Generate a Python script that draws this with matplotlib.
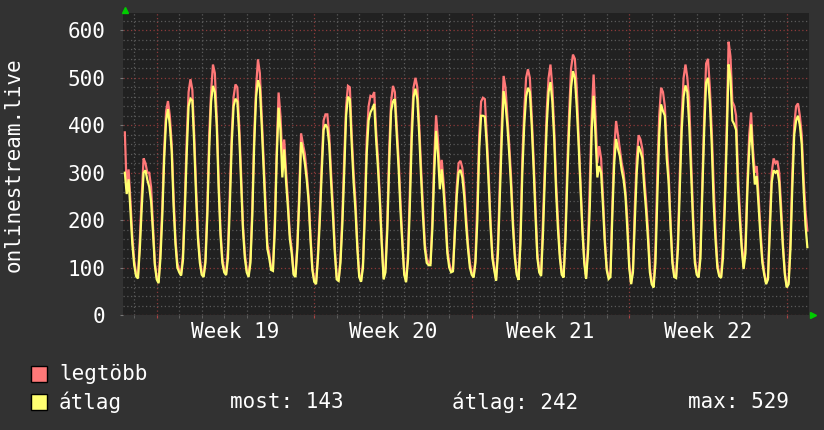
import numpy as np
import matplotlib
matplotlib.use("Agg")
import matplotlib.pyplot as plt
from matplotlib.patches import Rectangle

# --- data (2-hour samples, one row per day, x in days from start of week 19) ---
t_start = -2 + 14 / 24.0
step = 2 / 24.0

max_vals = [
    385, 265, 307, 240, 165,
    115, 88, 80, 160, 250, 330, 320, 300, 300, 270, 190, 110,
    80, 70, 140, 230, 350, 430, 451, 420, 360, 250, 160, 110,
    95, 85, 130, 240, 370, 470, 497, 475, 380, 270, 170, 120,
    90, 82, 120, 230, 380, 470, 528, 510, 420, 290, 180, 120,
    95, 86, 140, 260, 380, 460, 486, 480, 400, 300, 190, 130,
    95, 85, 120, 230, 380, 480, 539, 510, 420, 330, 240, 150,
    130, 100, 100, 200, 350, 469, 420, 330, 370, 300, 240, 170,
    140, 90, 85, 150, 260, 383, 360, 340, 300, 250, 170, 100,
    75, 70, 130, 220, 320, 410, 423, 423, 380, 300, 230, 140,
    80, 72, 120, 210, 330, 440, 483, 480, 380, 300, 240, 150,
    85, 72, 110, 230, 370, 440, 462, 460, 470, 390, 330, 250,
    160, 80, 100, 200, 350, 450, 483, 470, 400, 330, 240, 160,
    90, 72, 130, 260, 400, 480, 500, 480, 400, 310, 230, 150,
    120, 110, 110, 200, 330, 421, 370, 300, 327, 280, 220, 140,
    110, 95, 95, 180, 270, 320, 325, 310, 270, 210, 150, 110,
    90, 80, 120, 240, 380, 450, 458, 455, 380, 300, 200, 130,
    100, 74, 150, 280, 400, 504, 480, 420, 360, 290, 200, 130,
    90, 76, 170, 330, 430, 500, 518, 500, 420, 330, 230, 130,
    95, 85, 200, 320, 430, 500, 528, 480, 390, 280, 200, 130,
    90, 80, 180, 320, 430, 520, 549, 540, 480, 380, 280, 190,
    120, 78, 150, 280, 420, 507, 420, 320, 356, 330, 250, 160,
    100, 80, 90, 230, 350, 409, 380, 350, 320, 300, 260, 200,
    110, 66, 100, 230, 330, 379, 370, 350, 290, 240, 180, 100,
    70, 60, 140, 300, 420, 479, 470, 440, 360, 300, 200, 120,
    85, 80, 160, 300, 420, 500, 528, 500, 450, 330, 220, 120,
    90, 80, 140, 280, 420, 530, 540, 480, 390, 280, 180, 110,
    85, 80, 150, 250, 400, 576, 545, 450, 441, 420, 300, 220,
    150, 100, 150, 280, 380, 427, 350, 300, 314, 250, 180, 120,
    90, 68, 80, 200, 300, 330, 320, 325, 300, 230, 150, 90,
    60, 70, 160, 300, 400, 440, 446, 420, 380, 290, 220, 178,
]

avg_vals = [
    300, 255, 286, 220, 150,
    105, 82, 77, 140, 225, 300, 305, 285, 270, 240, 175, 105,
    75, 67, 120, 210, 330, 410, 434, 400, 345, 230, 150, 100,
    90, 83, 115, 220, 340, 440, 456, 452, 360, 250, 160, 110,
    85, 80, 110, 210, 350, 450, 483, 470, 400, 270, 170, 110,
    90, 84, 120, 230, 360, 440, 456, 450, 380, 280, 180, 120,
    90, 80, 110, 210, 360, 460, 495, 480, 400, 310, 220, 140,
    120, 95, 93, 180, 330, 437, 390, 290, 349, 280, 225, 160,
    130, 85, 80, 140, 240, 364, 345, 320, 285, 240, 160, 95,
    70, 65, 120, 200, 300, 390, 402, 395, 360, 280, 210, 130,
    75, 72, 110, 190, 300, 420, 460, 455, 360, 280, 220, 140,
    80, 70, 100, 210, 340, 410, 427, 435, 445, 370, 310, 240,
    150, 75, 90, 180, 320, 430, 450, 455, 380, 310, 220, 150,
    85, 69, 115, 230, 370, 460, 477, 455, 380, 290, 210, 140,
    110, 105, 105, 180, 300, 388, 340, 265, 307, 260, 200, 130,
    100, 90, 92, 170, 250, 300, 306, 290, 250, 190, 140, 100,
    85, 79, 110, 200, 350, 420, 420, 418, 360, 280, 190, 120,
    95, 72, 130, 250, 370, 472, 445, 400, 340, 270, 185, 120,
    85, 74, 150, 300, 400, 460, 479, 470, 400, 310, 210, 120,
    90, 82, 170, 290, 400, 470, 491, 450, 370, 260, 180, 120,
    85, 79, 160, 290, 400, 480, 514, 500, 440, 360, 270, 180,
    110, 76, 130, 230, 390, 462, 380, 290, 314, 300, 230, 150,
    95, 76, 80, 210, 320, 371, 350, 335, 305, 285, 250, 180,
    100, 65, 90, 200, 300, 356, 345, 330, 270, 220, 160, 90,
    65, 58, 110, 250, 380, 444, 430, 420, 330, 280, 190, 110,
    80, 78, 140, 270, 390, 460, 484, 470, 400, 300, 200, 110,
    85, 79, 120, 260, 390, 490, 500, 450, 360, 240, 160, 100,
    82, 78, 120, 230, 370, 528, 500, 410, 402, 390, 270, 200,
    140, 97, 130, 260, 350, 402, 330, 275, 293, 230, 165, 110,
    85, 65, 75, 180, 280, 305, 300, 305, 280, 210, 140, 85,
    58, 65, 140, 270, 380, 410, 420, 400, 360, 265, 190, 143,
]

week_starts = [0, 7, 14, 21, 28]
week_labels = ["Week 19", "Week 20", "Week 21", "Week 22"]
y_major = [0, 100, 200, 300, 400, 500, 600]

legend_names = ["legtöbb", "átlag"]
stats_text = ["most: 143", "átlag: 242", "max: 529"]

BG = "#323232"
CANVAS = "#212121"
MAXC = "#ff7878"
AVGC = "#ffff70"
FONT = "DejaVu Sans Mono"
FS = 15
W, H = 824, 430

t = t_start + np.arange(len(max_vals)) * step

fig = plt.figure(figsize=(W / 100, H / 100), dpi=100, facecolor=BG)
ax = fig.add_axes([123.5 / W, (H - 315) / H, 685.5 / W, 301.7 / H])
ax.set_facecolor(CANVAS)
ax.set_xlim(-1.476, 28.99)
ax.set_ylim(0, 636)

# grid
ax.set_xticks(week_starts)
ax.set_xticks(np.arange(-1, 29), minor=True)
ax.set_yticks(y_major)
ax.set_yticks(np.arange(0, 640, 20), minor=True)
ax.grid(which="minor", color="#5a5a5a", linestyle=(0, (1, 2)), linewidth=0.9)
ax.grid(which="major", color="#8c3a3a", linestyle=(0, (1, 2)), linewidth=0.9)
ax.set_axisbelow(True)
ax.set_xticklabels([])
ax.set_yticklabels([str(v) for v in y_major], fontfamily=FONT, fontsize=FS, color="white")
ax.tick_params(axis="y", which="major", length=2, color="#777777", pad=11)
ax.tick_params(axis="y", which="minor", length=0)
ax.tick_params(axis="x", which="major", length=2.5, color="#aa4444")
ax.tick_params(axis="x", which="minor", length=2, color="#666666")
for s in ax.spines.values():
    s.set_visible(False)

ax.plot(t, max_vals, color=MAXC, linewidth=1.6, solid_joinstyle="miter")
ax.plot(t, avg_vals, color=AVGC, linewidth=1.6, solid_joinstyle="miter")

# week labels centered in each week
for i, lab in enumerate(week_labels):
    ax.text((week_starts[i] + week_starts[i + 1]) / 2, -16.7 / 0.4742, lab,
            ha="center", va="center", fontfamily=FONT, fontsize=FS,
            color="white", clip_on=False)

# green axis arrows
ax.plot([(125 - 123.5) / 685.5], [1.012], marker="^", markersize=5,
        color="#00cc00", transform=ax.transAxes, clip_on=False)
ax.plot([(813 - 123.5) / 685.5], [0.0], marker=">", markersize=5,
        color="#00cc00", transform=ax.transAxes, clip_on=False)

fig.text(14 / W, 1 - 164.5 / H, "onlinestream.live", rotation=90,
         ha="center", va="center", fontfamily=FONT, fontsize=FS, color="white")

# legend
for i, (name, col) in enumerate(zip(legend_names, [MAXC, AVGC])):
    ytop = 366 + i * 28
    fig.add_artist(Rectangle((31.5 / W, 1 - (ytop + 15.5) / H), 15.5 / W, 15.5 / H,
                             transform=fig.transFigure, facecolor=col,
                             edgecolor="black", linewidth=1))
    fig.text(59 / W, 1 - (ytop + 8) / H, name, ha="left", va="center",
             fontfamily=FONT, fontsize=FS, color="white")

for x0, s in zip([230, 452, 688], stats_text):
    fig.text(x0 / W, 1 - 402 / H, s, ha="left", va="center",
             fontfamily=FONT, fontsize=FS, color="white")

fig.savefig("out.png", dpi=100, facecolor=BG)
